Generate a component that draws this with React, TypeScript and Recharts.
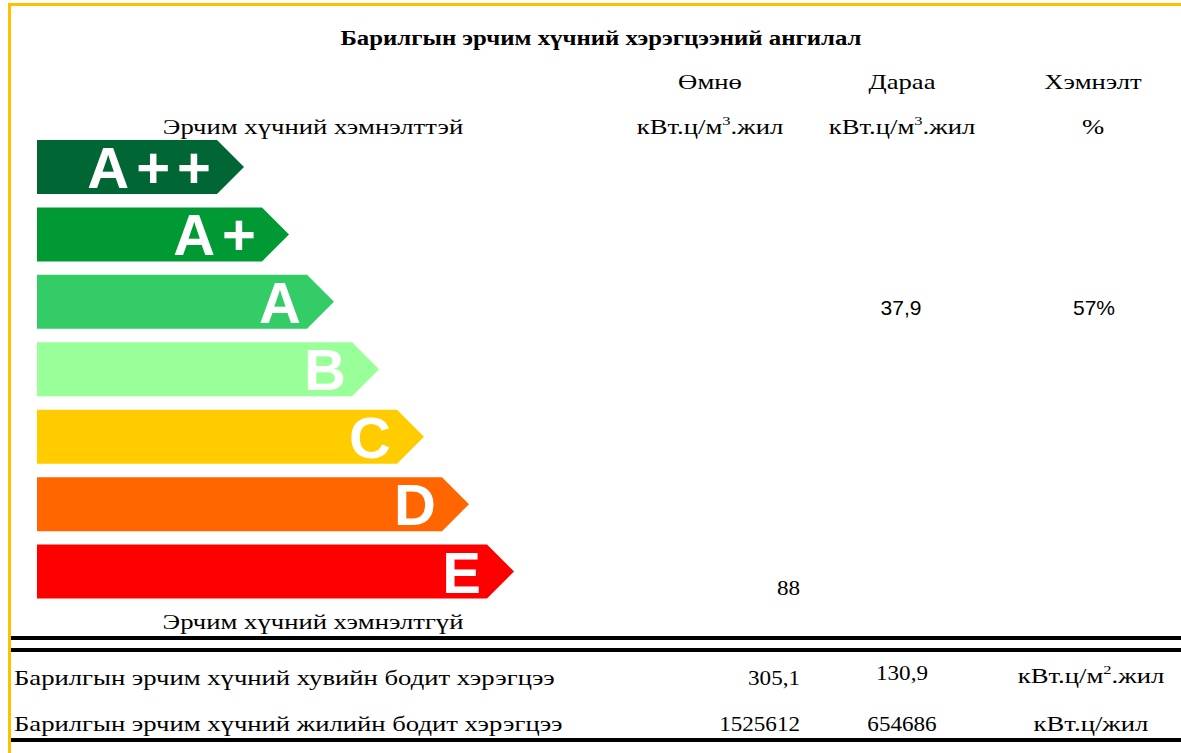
import React from "react";
import { BarChart, Bar, XAxis, YAxis, Cell } from "recharts";

// energy classes, bar body length (arbitrary units) and fill
const CLASSES = ["A++", "A+", "A", "B", "C", "D", "E"];
const CLASS_LENGTH = [40, 50, 60, 70, 80, 90, 100];
const CLASS_COLORS = ["#006633", "#009933", "#33CC66", "#99FF99", "#FFCC00", "#FF6600", "#FF0000"];

const TITLE = "Барилгын эрчим хүчний хэрэгцээний ангилал";
const COLUMN_HEADS = ["Өмнө", "Дараа", "Хэмнэлт"];
const TOP_NOTE = "Эрчим хүчний хэмнэлттэй";
const BOTTOM_NOTE = "Эрчим хүчний хэмнэлтгүй";

const BEFORE_VALUE = "88";
const AFTER_VALUE = "37,9";
const SAVING_VALUE = "57%";

const SUMMARY_LABELS = [
  "Барилгын эрчим хүчний хувийн бодит хэрэгцээ",
  "Барилгын эрчим хүчний жилийн бодит хэрэгцээ",
];
const SUMMARY_BEFORE = ["305,1", "1525612"];
const SUMMARY_AFTER = ["130,9", "654686"];

const data = CLASSES.map((name, i) => ({ name, len: CLASS_LENGTH[i], color: CLASS_COLORS[i] }));

const SERIF = "'Liberation Serif', 'Times New Roman', serif";
const SANS = "'Liberation Sans', Arial, sans-serif";

function ArrowBar(props: any) {
  const { x, y, width, height, payload } = props;
  const tip = height / 2;
  const pts = [
    [x, y],
    [x + width, y],
    [x + width + tip, y + height / 2],
    [x + width, y + height],
    [x, y + height],
  ]
    .map((p) => p.join(","))
    .join(" ");
  return (
    <g>
      <polygon points={pts} fill={payload.color} />
      <text
        x={x + width + 1}
        y={y + height / 2 + 21}
        textAnchor="end"
        fill="#fff"
        fontFamily={SANS}
        fontWeight="bold"
        fontSize={58}
        letterSpacing={7}
      >
        {payload.name}
      </text>
    </g>
  );
}

// positioned text, anchor: "c" centre, "l" left, "r" right; sx = horizontal stretch
function T({ x, y, a = "c", size = 21, bold = false, font = SERIF, sx = 1.27, children }: any) {
  const tx = a === "c" ? "-50%" : a === "r" ? "-100%" : "0";
  return (
    <div
      style={{
        position: "absolute",
        left: x,
        top: y,
        transform: `translate(${tx}, -50%) scaleX(${sx})`,
        transformOrigin: a === "c" ? "center" : a === "l" ? "left" : "right",
        whiteSpace: "nowrap",
        fontFamily: font,
        fontSize: size,
        fontWeight: bold ? "bold" : "normal",
        lineHeight: 1,
        color: "#000",
      }}
    >
      {children}
    </div>
  );
}

const Unit = ({ p }: { p: string }) => (
  <span>
    кВт.ц/м<sup style={{ fontSize: 13, verticalAlign: "9px", lineHeight: 0 }}>{p}</sup>.жил
  </span>
);

function HLine({ y }: { y: number }) {
  return <div style={{ position: "absolute", left: 11, right: 0, top: y - 2, height: 4, background: "#000" }} />;
}

export default function App() {
  return (
    <div style={{ position: "relative", width: 1181, height: 753, background: "#fff", overflow: "hidden" }}>
      <style>{"body{margin:0}"}</style>
      <div style={{ position: "absolute", left: 8, top: 3, right: 0, height: 3, background: "#FFC000" }} />
      <div style={{ position: "absolute", left: 8, top: 3, width: 3, bottom: 0, background: "#FFC000" }} />

      <div style={{ position: "absolute", left: 0, top: 0 }}>
        <BarChart
          width={1181}
          height={753}
          data={data}
          layout="vertical"
          margin={{ top: 133, right: 244, bottom: 148, left: 37 }}
        >
          <XAxis type="number" domain={[0, 200]} hide />
          <YAxis type="category" dataKey="name" hide />
          <Bar dataKey="len" barSize={54} shape={<ArrowBar />} isAnimationActive={false}>
            {data.map((d) => (
              <Cell key={d.name} fill={d.color} />
            ))}
          </Bar>
        </BarChart>
      </div>

      <T x={601} y={38} bold size={20} sx={1.24}>{TITLE}</T>
      <T x={710} y={82}>{COLUMN_HEADS[0]}</T>
      <T x={902} y={82}>{COLUMN_HEADS[1]}</T>
      <T x={1093} y={82}>{COLUMN_HEADS[2]}</T>

      <T x={313} y={127}>{TOP_NOTE}</T>
      <T x={710} y={127}><Unit p="3" /></T>
      <T x={902} y={127}><Unit p="3" /></T>
      <T x={1093} y={127}>%</T>

      <T x={901} y={307} font={SANS} size={21} sx={1}>{AFTER_VALUE}</T>
      <T x={1094} y={307} font={SANS} size={21} sx={1}>{SAVING_VALUE}</T>
      <T x={800} y={588} a="r" sx={1.1}>{BEFORE_VALUE}</T>

      <T x={313} y={622}>{BOTTOM_NOTE}</T>
      <HLine y={638} />
      <HLine y={650} />

      <T x={14} y={678} a="l">{SUMMARY_LABELS[0]}</T>
      <T x={800} y={678} a="r" sx={1.1}>{SUMMARY_BEFORE[0]}</T>
      <T x={902} y={673} sx={1.1}>{SUMMARY_AFTER[0]}</T>
      <T x={1091} y={676}><Unit p="2" /></T>

      <T x={14} y={724} a="l">{SUMMARY_LABELS[1]}</T>
      <T x={800} y={724} a="r" sx={1.1}>{SUMMARY_BEFORE[1]}</T>
      <T x={902} y={724} sx={1.1}>{SUMMARY_AFTER[1]}</T>
      <T x={1091} y={724}>кВт.ц/жил</T>
      <HLine y={740} />
    </div>
  );
}
